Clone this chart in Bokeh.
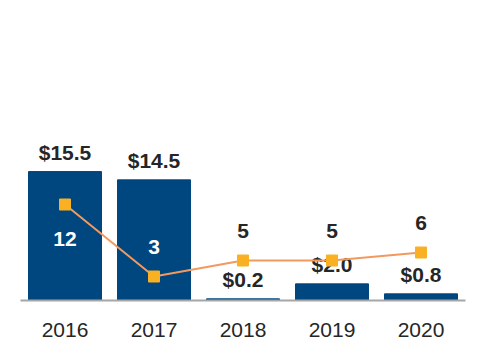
from bokeh.plotting import figure
from bokeh.models import ColumnDataSource, Range1d, FactorRange
from bokeh.core.properties import value
from bokeh.embed import file_html
from bokeh.resources import INLINE

years = ["2016", "2017", "2018", "2019", "2020"]
amounts = [15.5, 14.5, 0.2, 2.0, 0.8]          # bars, $ values
counts = [12, 3, 5, 5, 6]                       # line, secondary axis
amount_labels = ["$15.5", "$14.5", "$0.2", "$2.0", "$0.8"]
count_labels = ["12", "3", "5", "5", "6"]

BAR = "#00467F"
LINE = "#F2995E"
MARK = "#F9B123"
DARK = "#262626"
FONT = "Liberation Sans"

p = figure(width=476, height=352, x_range=FactorRange(*years, range_padding=0),
           y_range=Range1d(0, 35.1), output_backend="svg", toolbar_location=None,
           y_axis_location=None, min_border_left=20, min_border_right=11,
           min_border_top=8, min_border_bottom=52)
p.extra_y_ranges = {"count": Range1d(0, 36.5)}
p.outline_line_color = None
p.xgrid.visible = False
p.ygrid.visible = False

src = ColumnDataSource(dict(year=years, amt=amounts, cnt=counts,
                            alab=amount_labels, clab=count_labels))
p.vbar(x="year", top="amt", width=0.82, source=src, color=BAR)

# bar value labels above bars
p.text(x="year", y="amt", text="alab", source=src, text_align="center",
       text_baseline="middle", y_offset=-19, text_font=value(FONT),
       text_font_size="21px", text_font_style="bold", text_color=DARK)

p.line(x="year", y="cnt", source=src, y_range_name="count", color=LINE, line_width=2)
p.scatter(x="year", y="cnt", source=src, y_range_name="count", marker="square",
          size=11, fill_color=MARK, line_color=MARK)

# count labels: first inside below marker (white), second above (white), rest above dark
inside = [a > 5 for a in amounts]
ccolor = ["white" if i else DARK for i in inside]
coff = [34 if c == max(counts) else -30 for c in counts]
src.data["ccol"] = ccolor
src.data["coff"] = coff
p.text(x="year", y="cnt", text="clab", source=src, y_range_name="count",
       text_align="center", text_baseline="middle", y_offset="coff",
       text_font=value(FONT), text_font_size="21px", text_font_style="bold",
       text_color="ccol")

ax = p.xaxis[0]
ax.axis_line_color = "#A6A6A6"
ax.axis_line_width = 2
ax.major_tick_line_color = None
ax.minor_tick_line_color = None
ax.major_label_text_font = FONT
ax.major_label_text_font_size = "21px"
ax.major_label_text_color = DARK
ax.major_label_standoff = 16

open("out.html", "w").write(file_html(p, INLINE))
